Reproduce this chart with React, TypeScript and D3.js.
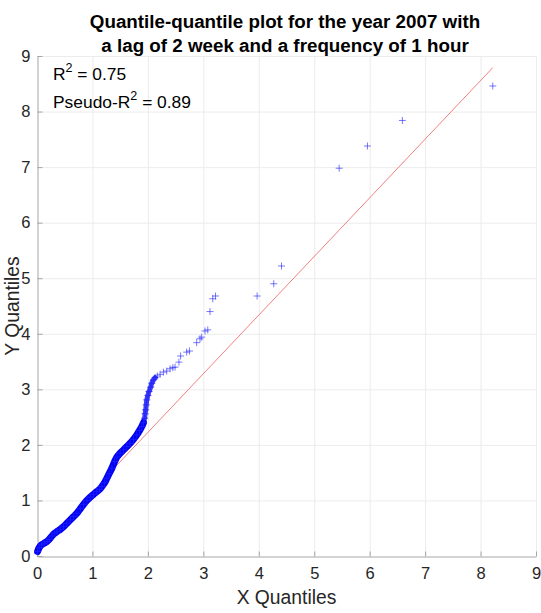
import React, { useRef, useEffect } from "react";
import * as d3 from "d3";

// sorted sample quantiles (x = X quantile, y = Y quantile)
const denseX = [0.01, 0.04, 0.08, 0.13, 0.18, 0.22, 0.27, 0.32, 0.36, 0.42, 0.48, 0.54, 0.6, 0.66, 0.72, 0.78, 0.84, 0.9, 0.96, 1.02, 1.08, 1.13, 1.17, 1.22, 1.26, 1.3, 1.35, 1.4, 1.44, 1.5, 1.56, 1.62, 1.68, 1.74, 1.8, 1.85, 1.89, 1.92, 1.94, 1.95, 1.96, 1.97, 1.98, 2.0, 2.02, 2.05, 2.07, 2.1, 2.13];
const denseY = [0.08, 0.15, 0.2, 0.23, 0.26, 0.3, 0.36, 0.41, 0.44, 0.48, 0.53, 0.59, 0.65, 0.71, 0.77, 0.85, 0.93, 1.0, 1.06, 1.11, 1.16, 1.2, 1.25, 1.32, 1.4, 1.48, 1.58, 1.7, 1.78, 1.85, 1.91, 1.97, 2.03, 2.1, 2.18, 2.26, 2.33, 2.4, 2.48, 2.56, 2.63, 2.72, 2.81, 2.89, 2.96, 3.04, 3.11, 3.17, 3.21];
const tailX = [2.17, 2.22, 2.28, 2.34, 2.4, 2.45, 2.49, 2.56, 2.59, 2.7, 2.75, 2.88, 2.94, 2.97, 3.03, 3.08, 3.12, 3.17, 3.22, 3.97, 4.27, 4.41, 5.45, 5.96, 6.59, 8.22];
const tailY = [3.24, 3.27, 3.31, 3.33, 3.37, 3.39, 3.4, 3.49, 3.6, 3.67, 3.69, 3.84, 3.91, 3.94, 4.05, 4.07, 4.4, 4.63, 4.68, 4.68, 4.9, 5.22, 6.98, 7.38, 7.84, 8.46];

// fitted reference line end points
const refX = [1.37, 8.22];
const refY = [1.56, 8.79];

const xTicks = [0, 1, 2, 3, 4, 5, 6, 7, 8, 9];
const yTicks = [0, 1, 2, 3, 4, 5, 6, 7, 8, 9];

const titleLines = ["Quantile-quantile plot for the year 2007 with", "a lag of 2 week and a frequency of 1 hour"];
const rSquared = "0.75";
const pseudoRSquared = "0.89";

const W = 541;
const H = 613;
const FONT = "'Liberation Sans', Arial, Helvetica, sans-serif";

export default function App() {
  const svgRef = useRef<SVGSVGElement>(null);

  useEffect(() => {
    const svg = d3.select(svgRef.current);
    svg.selectAll("*").remove();

    const m = { left: 37, right: 5, top: 56, bottom: 57 };
    const x = d3.scaleLinear().domain([0, 9]).range([m.left, W - m.right]);
    const y = d3.scaleLinear().domain([0, 9]).range([H - m.bottom, m.top]);

    // grid
    const grid = svg.append("g").attr("stroke", "#ececec").attr("stroke-width", 1);
    grid.selectAll(".gx").data(xTicks.filter((t) => t > 0)).join("line")
      .attr("x1", (d) => x(d) + 0.5).attr("x2", (d) => x(d) + 0.5)
      .attr("y1", y(0)).attr("y2", y(9));
    grid.selectAll(".gy").data(yTicks.filter((t) => t > 0)).join("line")
      .attr("y1", (d) => y(d) + 0.5).attr("y2", (d) => y(d) + 0.5)
      .attr("x1", x(0)).attr("x2", x(9));

    // axes, MATLAB style ticks pointing inward
    const xAxis = d3.axisBottom(x).tickValues(xTicks).tickSizeInner(-5).tickSizeOuter(0).tickPadding(11);
    const yAxis = d3.axisLeft(y).tickValues(yTicks).tickSizeInner(-5).tickSizeOuter(0).tickPadding(7);

    const gx = svg.append("g").attr("transform", `translate(0,${y(0) + 0.5})`).call(xAxis);
    const gy = svg.append("g").attr("transform", `translate(${x(0) + 0.5},0)`).call(yAxis);
    [gx, gy].forEach((g) => {
      g.select(".domain").attr("stroke", "#a6a6a6");
      g.selectAll(".tick line").attr("stroke", "#a6a6a6");
      g.selectAll(".tick text").attr("fill", "#262626").style("font-size", "16.5px").style("font-family", FONT);
    });

    // reference line
    svg.append("line")
      .attr("x1", x(refX[0])).attr("y1", y(refY[0]))
      .attr("x2", x(refX[1])).attr("y2", y(refY[1]))
      .attr("stroke", "#f08080").attr("stroke-width", 1);

    const dense = denseX.map((v, i) => [v, denseY[i]] as [number, number]);
    const tail = tailX.map((v, i) => [v, tailY[i]] as [number, number]);

    // heavily overlapping markers form a solid band
    const band = d3.line<[number, number]>().x((d) => x(d[0])).y((d) => y(d[1])).curve(d3.curveCatmullRom);
    svg.append("path").datum(dense.filter((d) => d[0] < 1.93))
      .attr("d", band).attr("fill", "none").attr("stroke", "#0000f0")
      .attr("stroke-width", 7).attr("stroke-linecap", "round");
    svg.append("path").datum(dense.filter((d) => d[0] >= 1.85))
      .attr("d", band).attr("fill", "none").attr("stroke", "#0000f0")
      .attr("stroke-opacity", 0.75).attr("stroke-width", 5).attr("stroke-linecap", "round");

    const s = 3.5;
    const drawPlus = (pts: [number, number][], op: number) => {
      svg.append("g").selectAll("path").data(pts).join("path")
        .attr("d", (d) => {
          const cx = x(d[0]), cy = y(d[1]);
          return `M${cx - s},${cy}H${cx + s}M${cx},${cy - s}V${cy + s}`;
        })
        .attr("stroke", "#2020ff").attr("stroke-opacity", op).attr("stroke-width", 1).attr("fill", "none");
    };
    drawPlus(dense, 0.8);
    drawPlus(tail, 0.6);

    // title
    svg.append("g").selectAll("text").data(titleLines).join("text")
      .attr("x", 285).attr("y", (d, i) => 28 + i * 24)
      .attr("text-anchor", "middle").attr("font-weight", "bold")
      .style("font-size", "18.8px").style("font-family", FONT).attr("fill", "#000")
      .text((d) => d);

    // axis labels
    svg.append("text").attr("x", x(4.5)).attr("y", 604).attr("text-anchor", "middle")
      .style("font-size", "19.3px").style("font-family", FONT).attr("fill", "#262626").text("X Quantiles");
    svg.append("text").attr("transform", `translate(19,${y(4.5)}) rotate(-90)`).attr("text-anchor", "middle")
      .style("font-size", "19.3px").style("font-family", FONT).attr("fill", "#262626").text("Y Quantiles");

    // goodness-of-fit annotation
    const ann = [["R", rSquared], ["Pseudo-R", pseudoRSquared]];
    ann.forEach(([lab, val], i) => {
      const t = svg.append("text").attr("x", 53).attr("y", 80 + i * 28)
        .style("font-size", "17.4px").style("font-family", FONT).attr("fill", "#000");
      t.append("tspan").text(lab);
      t.append("tspan").attr("dy", -8).style("font-size", "12.5px").text("2");
      t.append("tspan").attr("dy", 8).text(` = ${val}`);
    });
  }, []);

  return (
    <svg ref={svgRef} width={W} height={H}
      style={{ position: "absolute", left: 0, top: 0, background: "#fff" }} />
  );
}
